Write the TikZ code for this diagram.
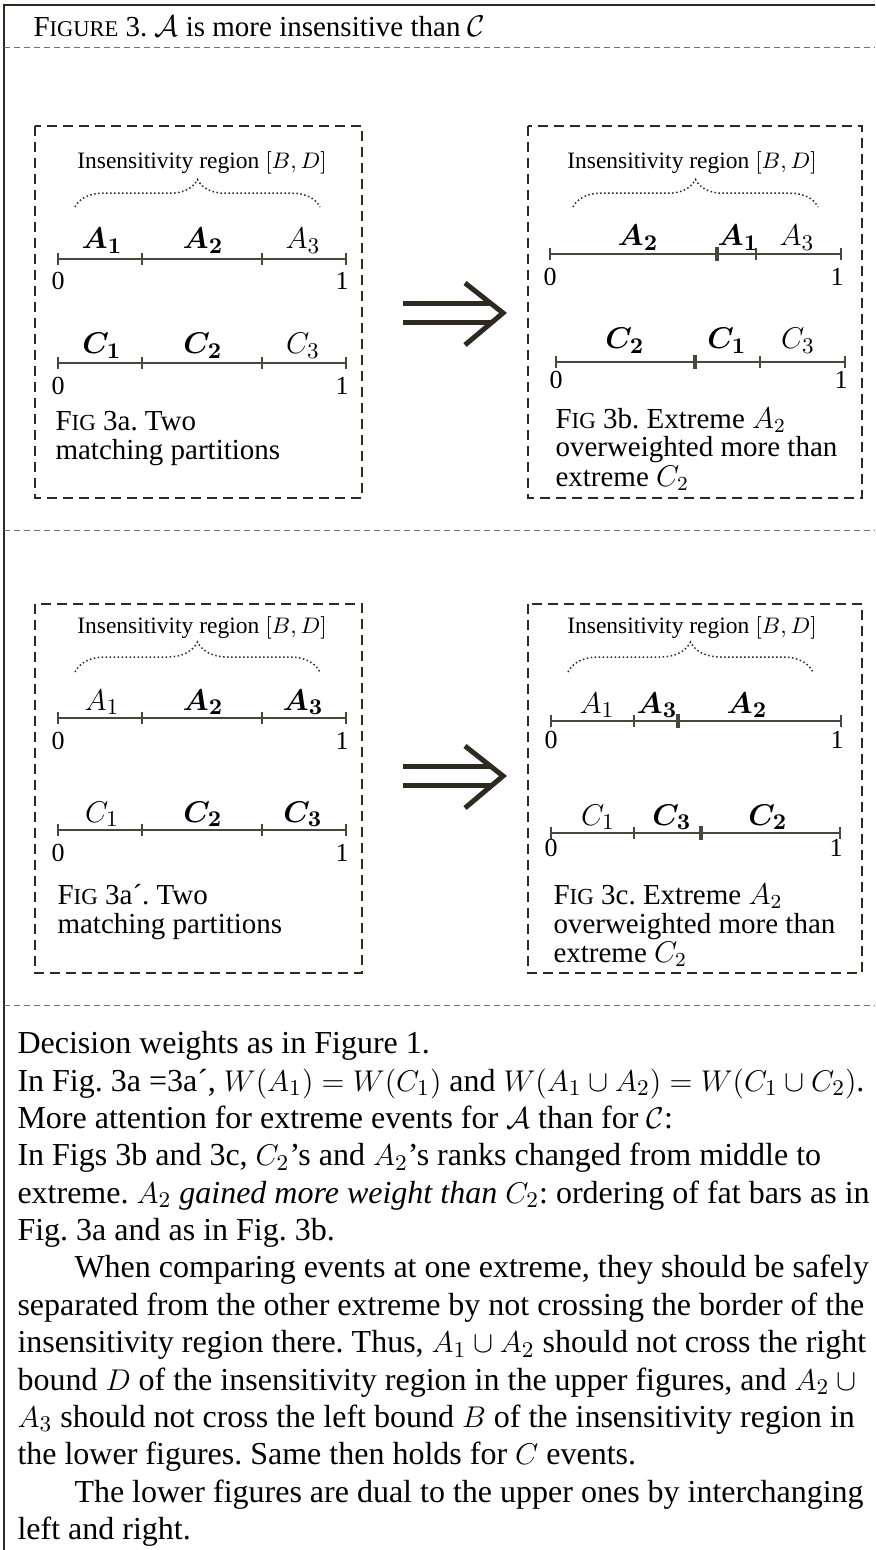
\documentclass[tikz,border=0pt]{standalone}
\usepackage{fontspec}
\setmainfont{Liberation Serif}
\usepackage{amsmath,bm}
\usetikzlibrary{decorations.pathreplacing}
\frenchspacing

\definecolor{ink}{HTML}{2E2A22}
\definecolor{barcol}{HTML}{4A463C}
\definecolor{sepcol}{HTML}{707070}
\newcommand{\fakesc}[2]{{\fontsize{#1}{#1}\selectfont #2}}

\tikzset{
  partline/.style={barcol, line width=0.5pt},
  fattick/.style={barcol, line width=1.6pt},
  evlab/.style={font=\fontsize{12.2}{14}\selectfont, anchor=base, inner sep=0pt},
  endnum/.style={font=\fontsize{10.4}{12}\selectfont, inner sep=0pt},
  regionlab/.style={font=\fontsize{9.4}{11}\selectfont, anchor=base, inner sep=0pt},
  figcap/.style={font=\fontsize{11.6}{11.6}\selectfont, align=left, anchor=north west, inner sep=0pt},
  panelbox/.style={ink, line width=1pt, dash pattern=on 4pt off 2.4pt},
  sepline/.style={sepcol, line width=0.4pt, dash pattern=on 2.4pt off 1.6pt},
  regionbrace/.style={ink, line width=0.6pt, densely dotted, decorate, decoration={brace, amplitude=#1}},
  regionbrace/.default=11pt,
  implies/.style={ink, line width=2pt}
}

\begin{document}
\begin{tikzpicture}[x=0.4pt, y=-0.4pt]
  \useasboundingbox (0,0) rectangle (875,1550);
  \draw[ink, line width=1pt] (4,1550) -- (4,5) -- (875,5);
  \node[anchor=base west, inner sep=0pt, font=\fontsize{11.6}{14}\selectfont] (title) at (33,37)
    {F\fakesc{9}{IGURE} 3. $\mathcal{A}$ is more insensitive than $\mathcal{C}$};
  \draw[sepline] (4,48) -- (875,48);
  \draw[sepline] (4,530) -- (875,530);
  \draw[sepline] (4,1005) -- (875,1005);

  % panel frames
  \draw[panelbox] (35,126) rectangle (362,498);
  \draw[panelbox] (528,126) rectangle (862,498);
  \draw[panelbox] (35,604) rectangle (362,973);
  \draw[panelbox] (528,604) rectangle (862,973);

  % fig 3a
  \begin{scope}[shift={(58,259)}]
    \node[regionlab] (regA) at (144,-90) {Insensitivity region $[B,D]$};
    \draw[regionbrace] (17,-52) -- (262,-52);
    \draw[partline] (0,0) -- (288,0);
    \draw[partline] (0,104) -- (288,104);
    \foreach \t in {0,84,204,288} {
      \draw[partline] (\t,-6) -- (\t,6);
      \draw[partline] (\t,98) -- (\t,110);}
    \node[evlab] (aA1) at (44,-10) {$\bm{A_1}$};
    \node[evlab] (aA2) at (145,-10) {$\bm{A_2}$};
    \node[evlab] (aA3) at (245,-10) {$A_3$};
    \node[evlab] (aC1) at (44,95) {$\bm{C_1}$};
    \node[evlab] (aC2) at (145,95) {$\bm{C_2}$};
    \node[evlab] (aC3) at (245,95) {$C_3$};
    \node[endnum] (aA0) at (0,22) {0}; \node[endnum] (aAe) at (284,22) {1};
    \node[endnum] (aC0) at (0,127) {0}; \node[endnum] (aCe) at (284,127) {1};
    \node[figcap] (capA) at (-3,152) {F\fakesc{9.2}{IG} 3a. Two\\matching partitions};
  \end{scope}

  % fig 3b
  \begin{scope}[shift={(550,254)}]
    \node[regionlab] (regB) at (142,-85) {Insensitivity region $[B,D]$};
    \draw[regionbrace] (23,-47) -- (268,-47);
    \draw[partline] (0,0) -- (291,0);
    \foreach \t in {0,206,291} \draw[partline] (\t,-6) -- (\t,6);
    \draw[fattick] (167,-7) -- (167,7);
    \draw[partline] (6,108) -- (295,108);
    \foreach \t in {6,210,295} \draw[partline] (\t,102) -- (\t,114);
    \draw[fattick] (145,101) -- (145,115);
    \node[evlab] (bA2) at (88,-8) {$\bm{A_2}$};
    \node[evlab] (bA1) at (188,-8) {$\bm{A_1}$};
    \node[evlab] (bA3) at (247,-8) {$A_3$};
    \node[evlab] (bC2) at (75,95) {$\bm{C_2}$};
    \node[evlab] (bC1) at (177,95) {$\bm{C_1}$};
    \node[evlab] (bC3) at (248,95) {$C_3$};
    \node[endnum] (bA0) at (0,23) {0}; \node[endnum] (bAe) at (287,23) {1};
    \node[endnum] (bC0) at (6,126) {0}; \node[endnum] (bCe) at (291,126) {1};
    \node[figcap] (capB) at (5,153) {F\fakesc{9.2}{IG} 3b. Extreme $A_2$\\overweighted more than\\extreme $C_2$};
  \end{scope}

  % fig 3a'
  \begin{scope}[shift={(58,718)}]
    \node[regionlab] (regA') at (144,-85) {Insensitivity region $[B,D]$};
    \draw[regionbrace=12pt] (17,-46) -- (262,-46);
    \draw[partline] (0,0) -- (288,0);
    \draw[partline] (0,112) -- (288,112);
    \foreach \t in {0,84,204,288} {
      \draw[partline] (\t,-6) -- (\t,6);
      \draw[partline] (\t,106) -- (\t,118);}
    \node[evlab] (dA1) at (44,-8) {$A_1$};
    \node[evlab] (dA2) at (145,-8) {$\bm{A_2}$};
    \node[evlab] (dA3) at (245,-8) {$\bm{A_3}$};
    \node[evlab] (dC1) at (44,104) {$C_1$};
    \node[evlab] (dC2) at (145,104) {$\bm{C_2}$};
    \node[evlab] (dC3) at (245,104) {$\bm{C_3}$};
    \node[endnum] (dA0) at (0,23) {0}; \node[endnum] (dAe) at (284,23) {1};
    \node[endnum] (dC0) at (0,135) {0}; \node[endnum] (dCe) at (284,135) {1};
    \node[figcap] (capD) at (-1,166) {F\fakesc{9.2}{IG} 3a´. Two\\matching partitions};
  \end{scope}

  % fig 3c
  \begin{scope}[shift={(551,721)}]
    \node[regionlab] (regC) at (141,-88) {Insensitivity region $[B,D]$};
    \draw[regionbrace=12pt] (17,-49) -- (262,-49);
    \draw[partline] (0,0) -- (290,0);
    \foreach \t in {0,83,290} \draw[partline] (\t,-6) -- (\t,6);
    \draw[fattick] (127,-7) -- (127,7);
    \draw[partline] (0,112) -- (289,112);
    \foreach \t in {0,83,289} \draw[partline] (\t,106) -- (\t,118);
    \draw[fattick] (150,105) -- (150,119);
    \node[evlab] (cA1) at (46,-8) {$A_1$};
    \node[evlab] (cA3) at (106,-8) {$\bm{A_3}$};
    \node[evlab] (cA2) at (196,-8) {$\bm{A_2}$};
    \node[evlab] (cC1) at (47,104) {$C_1$};
    \node[evlab] (cC3) at (121,104) {$\bm{C_3}$};
    \node[evlab] (cC2) at (217,104) {$\bm{C_2}$};
    \node[endnum] (cA0) at (0,19) {0}; \node[endnum] (cAe) at (286,19) {1};
    \node[endnum] (cC0) at (0,127) {0}; \node[endnum] (cCe) at (285,127) {1};
    \node[figcap] (capC) at (2,162) {F\fakesc{9.2}{IG} 3c. Extreme $A_2$\\overweighted more than\\extreme $C_2$};
  \end{scope}

  % implication arrows
  \foreach \y in {313,776} {
    \draw[implies] (403,\y-9.5) -- (492,\y-9.5);
    \draw[implies] (403,\y+9.5) -- (492,\y+9.5);
    \draw[implies] (465,\y-30) -- (503,\y) -- (465,\y+32);}

  \node[anchor=north west, align=left, inner sep=0pt, font=\fontsize{12.8}{14.95}\selectfont] (notes) at (17,1031) {%
    Decision weights as in Figure 1.\\
    In Fig. 3a =3a´, $W(A_1)=W(C_1)$ and $W(A_1\cup A_2)=W(C_1\cup C_2)$.\\
    More attention for extreme events for $\mathcal{A}$ than for $\mathcal{C}$:\\
    In Figs 3b and 3c, $C_2$’s and $A_2$’s ranks changed from middle to\\
    extreme. $A_2$ \textit{gained more weight than} $C_2$: ordering of fat bars as in\\
    Fig. 3a and as in Fig. 3b.\\
    \hspace*{22.8pt}When comparing events at one extreme, they should be safely\\
    separated from the other extreme by not crossing the border of the\\
    insensitivity region there. Thus, $A_1\cup A_2$ should not cross the right\\
    bound $D$ of the insensitivity region in the upper figures, and $A_2\cup{}$\\
    $A_3$ should not cross the left bound $B$ of the insensitivity region in\\
    the lower figures. Same then holds for $C$ events.\\
    \hspace*{22.8pt}The lower figures are dual to the upper ones by interchanging\\
    left and right.};
\end{tikzpicture}
\end{document}
